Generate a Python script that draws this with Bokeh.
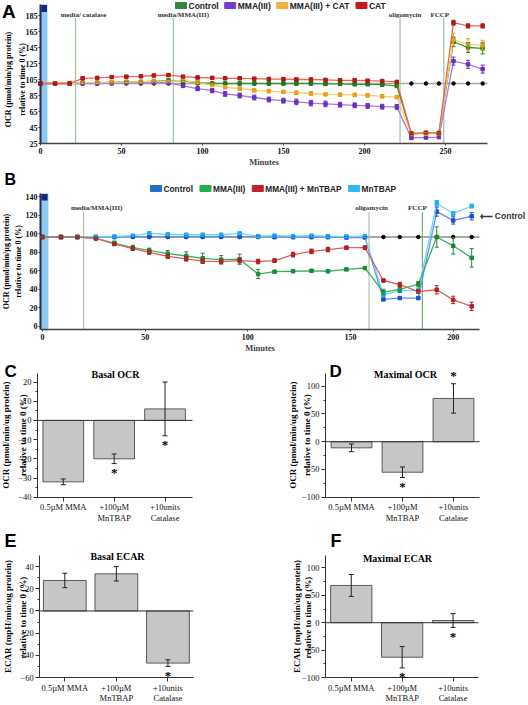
from bokeh.plotting import figure
from bokeh.models import (Range1d, FixedTicker, Label, ColumnDataSource, Whisker, TeeHead)
from bokeh.layouts import column, row
from bokeh.embed import file_html
from bokeh.resources import INLINE

SERIF = "Liberation Serif"
SANS = "Liberation Sans"

# ---------------- Panel A data ----------------
a_minutes = [0, 9, 18, 26, 35, 44, 53, 62, 70, 79, 88, 97, 106, 114, 123, 132, 141, 150, 158, 167,
             176, 185, 194, 202, 211, 220, 229, 238, 246, 255, 264, 273]
a_control = [100, 100, 100, 101, 101, 101.5, 102, 102, 103, 104, 103, 101, 100, 100, 100, 100, 100, 100, 100, 100,
             99.5, 99.5, 99, 99, 98.5, 97, 37, 38, 38, 152, 145, 144]
a_control_err = [0, 0, 0, 1, 1, 1, 1, 1, 1, 1, 1, 1, 1, 1, 1, 1, 1, 1, 1, 1,
                 1, 1, 1, 1, 1, 1, 1.5, 1.5, 1.5, 6, 6, 7]
a_mma = [100, 100, 100, 100, 100, 100.5, 101, 100.5, 101, 101, 97, 93.5, 91, 87, 85, 82.5, 80, 78.5, 77, 75.5,
         74.5, 73.5, 72.7, 72, 71, 70.7, 32, 32.5, 33, 128, 124, 118]
a_mma_err = [0, 0, 0, 1, 1, 1, 1.5, 1.5, 1.5, 1.5, 2, 2.5, 2.5, 3, 3, 3, 3, 3, 3.5, 3.5,
             3.5, 3, 3, 3, 3, 3, 1, 1, 1.5, 5, 5, 5]
a_mma_cat = [100, 100, 100, 101, 101, 101.5, 102, 102, 103, 103, 104, 101.5, 98, 95.5, 93.5, 91.5, 90.5, 89.5, 88.5, 87.5,
             86.5, 86, 85.8, 85.2, 84, 83, 37, 37.5, 37.5, 155, 149, 148]
a_mma_cat_err = [0, 0, 0, 1, 1, 1, 1, 1, 1, 1, 1.5, 1.5, 1.5, 2, 2, 2, 2, 2, 2, 2,
                 2, 2, 2, 2, 2, 2, 1.5, 1.5, 1.5, 8, 7, 6]
a_cat = [100, 100, 100, 106.5, 107, 108, 108.5, 109, 110, 110.5, 108.5, 107.5, 107, 106.5, 106.5, 106, 105.5, 105.5, 105, 105,
         104.5, 104, 104, 103.5, 103, 102, 37.5, 38.5, 38, 176, 172, 172]
a_cat_err = [0, 0, 0, 1.5, 1.5, 1.5, 1.5, 1.5, 1.5, 1.5, 1.5, 1.5, 1.5, 1.5, 1.5, 1.5, 1.5, 1.5, 1.5, 1.5,
             1.5, 1.5, 1.5, 1.5, 1.5, 1.5, 1.5, 1.5, 1.5, 3, 2.5, 2.5]
a_ref = 100
a_injections = [21.6, 82, 222, 249]
a_injection_labels = ["media/ catalase", "media/MMA(III)", "oligomycin", "FCCP"]
a_xticks = [0, 50, 100, 150, 200, 250]
a_yticks = [25, 45, 65, 85, 105, 125, 145, 165, 185]
a_legend = ["Control", "MMA(III)", "MMA(III) + CAT", "CAT"]

# ---------------- Panel B data ----------------
b_minutes = [0, 9, 17, 26, 35, 44, 52, 61, 70, 78, 87, 96, 105, 113, 122, 131, 139, 148, 157, 166,
             174, 183, 192, 200, 209]
b_control = [96.5, 96.5, 96.5, 96.5, 96.5, 97, 97, 97, 97, 97, 97, 97, 97, 96.5, 96.5, 96.5, 96.5, 96, 96, 29,
             30.5, 30.5, 124, 114.5, 119]
b_control_err = [0, 0, 0, 1, 1, 1, 1, 1, 1, 1, 1, 1, 1, 1, 1, 1, 1, 1, 1, 1,
                 1, 1, 5, 4, 4]
b_mma = [96.5, 96.5, 96.5, 95, 90, 85, 82, 78.5, 76, 73.5, 72, 72.5, 56.5, 59, 59.5, 60, 59.5, 61.5, 63, 37,
         40, 45.5, 96.5, 87, 74]
b_mma_err = [0, 0, 0, 1.5, 2, 2.5, 2.5, 3.5, 4.5, 5.5, 4.5, 5.5, 5, 1, 1, 1, 1, 1, 1, 3,
             3, 3, 11, 9, 10]
b_mma_mntbap = [96.5, 96.5, 96.5, 95, 89, 84, 80, 75.5, 73, 70.5, 70, 71, 70, 71, 77.5, 81, 83, 85, 85, 49.5,
                45, 37.5, 39.5, 28.5, 21.5]
b_mma_mntbap_err = [0, 0, 0, 1, 1.5, 2, 2, 2, 2.5, 2.5, 2.5, 2.5, 2.5, 2, 2.5, 2.5, 2.5, 1.5, 2, 1.5,
                    2.5, 2, 4.5, 4, 4.5]
b_mntbap = [96.5, 96.5, 96.5, 97, 97, 98, 100.5, 99.5, 99, 99, 99, 100.5, 97.5, 98, 97.5, 98, 97.5, 97, 97.5, 34,
            38.5, 38.5, 133, 122, 130]
b_mntbap_err = [0, 0, 0, 1, 1, 1, 1.5, 1.5, 1.5, 1.5, 1.5, 1.5, 1.5, 1.5, 1.5, 1.5, 1.5, 1.5, 1.5, 2,
                2, 2, 3, 2, 2]
b_ref = 96.5
b_injections = [20, 159, 185]
b_injection_labels = ["media/MMA(III)", "oligomycin", "FCCP"]
b_xticks = [0, 50, 100, 150, 200]
b_yticks = [0, 20, 40, 60, 80, 100, 120, 140]
b_legend = ["Control", "MMA(III)", "MMA(III) + MnTBAP", "MnTBAP"]

# ---------------- Panels C-F data ----------------
groups = [1, 2, 3]
group_labels = ["0.5µM MMA", "+100µM\nMnTBAP", "+10units\nCatalase"]
basal_ocr = [-32, -20, 6]
basal_ocr_err = [1.5, 2.5, 14]
basal_ocr_star = ["", "below", "below"]
maximal_ocr = [-11, -55, 78]
maximal_ocr_err = [7, 9.5, 26.5]
maximal_ocr_star = ["", "below", "above"]
basal_ecar = [27.5, 33.5, -47]
basal_ecar_err = [6.5, 6.5, 3]
basal_ecar_star = ["", "", "below"]
maximal_ecar = [68, -63, 4]
maximal_ecar_err = [20, 19.5, 12.5]
maximal_ecar_star = ["", "below", "below"]

OCR_TS_LABEL = ["OCR (pmol/min/µg protein)", "relative to time 0 (%)"]
OCR_LABEL = ["OCR (pmol/min/ug protein)", "relative to time 0 (%)"]
ECAR_LABEL = ["ECAR (mpH/min/ug protein)", "relative to  time 0 (%)"]

# approximate advance widths (em) of Liberation Sans Bold, used to lay out legend rows
SANS_BOLD_W = {"C": .722, "o": .611, "n": .611, "t": .333, "r": .389, "l": .278, "M": .833, "A": .722,
               "(": .333, ")": .333, "I": .278, " ": .278, "+": .584, "T": .611, "B": .722, "P": .667}


def text_width(s, px):
    return sum(SANS_BOLD_W.get(c, .6) for c in s) * px


class Panel:
    """A figure whose frame fills its whole canvas; the plot box (axes) sits inside it."""

    def __init__(self, canvas, box, xr, yr):
        X0, Y0, X1, Y1 = canvas
        fl, fr, ft, fb = box
        self.box, self.xr, self.yr = box, xr, yr
        sx = (xr[1] - xr[0]) / (fr - fl)
        sy = (yr[1] - yr[0]) / (fb - ft)
        self.sx, self.sy = sx, sy
        cx = (xr[0] - (fl - X0) * sx, xr[1] + (X1 - fr) * sx)
        cy = (yr[0] - (Y1 - fb) * sy, yr[1] + (ft - Y0) * sy)
        p = figure(width=X1 - X0, height=Y1 - Y0, x_range=Range1d(*cx), y_range=Range1d(*cy),
                   output_backend="svg", toolbar_location=None, min_border=0,
                   min_border_left=0, min_border_right=0, min_border_top=0, min_border_bottom=0)
        p.title.visible = False
        p.outline_line_color = None
        p.xgrid.visible = False
        p.ygrid.visible = False
        p.background_fill_color = "white"
        p.border_fill_color = "white"
        ax, ay = p.xaxis[0], p.yaxis[0]
        ax.fixed_location = yr[0]
        ax.bounds = xr
        ay.fixed_location = xr[0]
        ay.bounds = yr
        self.p = p

    def at(self, px, py):
        fl, fr, ft, fb = self.box
        return (self.xr[0] + (px - fl) * self.sx, self.yr[0] + (fb - py) * self.sy)

    def text(self, px, py, text, size, font=SERIF, style="bold", align="center",
             baseline="middle", angle=0, color="black"):
        x, y = self.at(px, py)
        self.p.add_layout(Label(x=x, y=y, text=text, text_font=font, text_font_style=style,
                                text_font_size=size, text_align=align, text_baseline=baseline,
                                angle=angle, angle_units="deg", text_color=color))

    def legend(self, labels, colors, px0, py, size_px, gap):
        px = px0
        for lab, col in zip(labels, colors):
            x, y = self.at(px + 5.5, py)
            self.p.rect(x=[x], y=[y], width=11, height=6, width_units="screen", height_units="screen",
                        fill_color=col, line_color=col)
            self.text(px + 13, py, lab, f"{size_px}px", font=SANS, align="left", color="#222222")
            px += 13 + text_width(lab, size_px) + gap


def style_axis(ax, size, bold, line_color, line_width, tick_out, standoff):
    ax.major_label_text_font = SERIF
    ax.major_label_text_font_style = "bold" if bold else "normal"
    ax.major_label_text_font_size = size
    ax.major_label_text_color = "#111111"
    ax.major_label_standoff = standoff
    ax.major_tick_out = tick_out
    ax.major_tick_in = 0
    ax.minor_tick_out = 0
    ax.minor_tick_in = 0
    ax.axis_line_color = line_color
    ax.axis_line_width = line_width
    ax.major_tick_line_color = line_color


def series(p, t, v, e, line_c, mark_c):
    src = ColumnDataSource(dict(t=t, v=v,
                                lo=[a - b for a, b in zip(v, e)],
                                hi=[a + b for a, b in zip(v, e)]))
    p.line("t", "v", source=src, line_color=line_c, line_width=1.3)
    p.add_layout(Whisker(base="t", upper="hi", lower="lo", source=src, line_color=mark_c, line_width=1,
                         upper_head=TeeHead(size=4, line_color=mark_c, line_width=1),
                         lower_head=TeeHead(size=4, line_color=mark_c, line_width=1), level="annotation"))
    p.scatter("t", "v", source=src, size=3.5, marker="square", color=mark_c)


def injections(panel, xs, labels, colors, label_py, line_top_py, offsets):
    p = panel.p
    _, ytop = panel.at(0, line_top_py)
    _, ly = panel.at(0, label_py)
    for x, lab, col, off in zip(xs, labels, colors, offsets):
        p.segment(x0=[x], y0=[panel.yr[0]], x1=[x], y1=[ytop], line_color=col, line_width=1.2)
        p.add_layout(Label(x=x, y=ly, text=lab, x_offset=off, text_align="center",
                           text_baseline="middle", text_font=SERIF, text_font_size="7px",
                           text_font_style="bold", text_color="#333333"))


def ts_axes(panel, xticks, yticks, ylabel, ylabel_px, ylabel_py):
    p = panel.p
    ax, ay = p.xaxis[0], p.yaxis[0]
    ax.ticker = FixedTicker(ticks=xticks)
    style_axis(ax, "8px", True, "#444444", 1.5, 2, 2)
    ax.axis_label = "Minutes"
    ax.axis_label_text_font = SERIF
    ax.axis_label_text_font_style = "bold"
    ax.axis_label_text_font_size = "8.5px"
    ax.axis_label_standoff = 0
    ay.ticker = FixedTicker(ticks=yticks)
    style_axis(ay, "8px", True, "#2c2c54", 2, 2, 1)
    for txt, px in zip(ylabel, ylabel_px):
        panel.text(px, ylabel_py, txt, "8px", angle=90)


# ================= Panel A =================
A = Panel((0, 0, 528, 168), (40, 487, 4, 143), (0, 276), (25, 198.75))
pA = A.p
ts_axes(A, a_xticks, a_yticks, OCR_TS_LABEL, [7.5, 21.5], 79)
pA.quad(left=[A.xr[0]], right=[4.3], bottom=[A.yr[0]], top=[A.yr[1]], fill_color="#8ccaf0", line_color=None)
_, sq_bottom = A.at(0, 11.5)
pA.quad(left=[0.5], right=[4.0], bottom=[sq_bottom], top=[A.yr[1] - 0.6], fill_color="#1a237e", line_color=None)
pA.segment(x0=[A.xr[0]], y0=[a_ref], x1=[A.xr[1]], y1=[a_ref], line_color="#a8a8a8", line_width=1.6)
pA.scatter(a_minutes, [a_ref] * len(a_minutes), size=3.5, color="black")
injections(A, a_injections, a_injection_labels, ["#9cc59c"] * 4, 14, 17.5, [8, 10, 5, -4])
series(pA, a_minutes, a_control, a_control_err, "#3a9a3a", "#1e7a1e")
series(pA, a_minutes, a_mma, a_mma_err, "#a878e8", "#6a2fc0")
series(pA, a_minutes, a_mma_cat, a_mma_cat_err, "#f2cf6a", "#e8a020")
series(pA, a_minutes, a_cat, a_cat_err, "#e8684a", "#b01818")
A.legend(a_legend, ["#2e8b3e", "#7a3cc8", "#f4b040", "#c8161e"], 175, 5, 8.5, 6)
A.text(1.5, 0, "A", "19px", font=SANS, align="left", baseline="top")

# ================= Panel B =================
B = Panel((0, 168, 528, 358), (40, 479, 193, 329), (-0.97, 212.8), (-3.5, 143.6))
pB = B.p
ts_axes(B, b_xticks, b_yticks, OCR_TS_LABEL, [6, 17.5], 261)
pB.quad(left=[B.xr[0]], right=[2.9], bottom=[B.yr[0]], top=[B.yr[1]], fill_color="#8ccaf0", line_color=None)
_, sq_bottom = B.at(0, 200)
pB.quad(left=[-0.5], right=[2.5], bottom=[sq_bottom], top=[B.yr[1] - 0.6], fill_color="#1a237e", line_color=None)
pB.segment(x0=[B.xr[0]], y0=[b_ref], x1=[B.xr[1]], y1=[b_ref], line_color="#a8a8a8", line_width=2)
pB.scatter(b_minutes, [b_ref] * len(b_minutes), size=3.5, color="black")
injections(B, b_injections, b_injection_labels, ["#b8b8b8", "#a8c8a8", "#70b070"], 207, 211.5, [13, 2.5, -5])
series(pB, b_minutes, b_control, b_control_err, "#6090f0", "#2050d0")
series(pB, b_minutes, b_mntbap, b_mntbap_err, "#70d4f8", "#20b0f0")
series(pB, b_minutes, b_mma, b_mma_err, "#40b060", "#1e8a3a")
series(pB, b_minutes, b_mma_mntbap, b_mma_mntbap_err, "#d86060", "#b02020")
B.legend(b_legend, ["#1f6fc8", "#20b050", "#c8202a", "#30b8f0"], 150, 188, 8.3, 7)
pB.add_layout(Label(x=B.xr[1], y=b_control[-1], text="⟵ Control", x_offset=0, text_align="left",
                    text_baseline="middle", text_font=SANS, text_font_size="8.5px",
                    text_font_style="bold", text_color="#333333"))
B.text(4, 170, "B", "16px", font=SANS, align="left", baseline="top")


# ================= Bar panels =================
def bar_panel(canvas, box, xr, yr, yticks, yminor, vals, errs, stars,
              title, title_pxy, ylabel, ylabel_px, letter, letter_pxy, letter_size, bar_w):
    P = Panel(canvas, box, xr, yr)
    p = P.p
    src = ColumnDataSource(dict(x=groups, top=vals,
                                lo=[v - e for v, e in zip(vals, errs)],
                                hi=[v + e for v, e in zip(vals, errs)]))
    p.vbar(x="x", top="top", bottom=0, width=bar_w, source=src,
           fill_color="#c6c6c6", line_color="#5a5a5a", line_width=1)
    p.segment(x0=[xr[0]], y0=[0], x1=[xr[1]], y1=[0], line_color="#333333", line_width=1)
    p.add_layout(Whisker(base="x", upper="hi", lower="lo", source=src, line_color="#222222", line_width=1,
                         upper_head=TeeHead(size=5, line_color="#222222", line_width=1),
                         lower_head=TeeHead(size=5, line_color="#222222", line_width=1),
                         level="annotation"))
    for g, v, e, s in zip(groups, vals, errs, stars):
        if s == "below":
            p.add_layout(Label(x=g, y=v - e, text="*", text_align="center", text_baseline="top",
                               y_offset=-1.5, text_font=SERIF, text_font_style="bold",
                               text_font_size="13px", text_color="black"))
        elif s == "above":
            p.add_layout(Label(x=g, y=v + e, text="*", text_align="center", text_baseline="bottom",
                               y_offset=1, text_font=SERIF, text_font_style="bold",
                               text_font_size="13px", text_color="black"))
    ax, ay = p.xaxis[0], p.yaxis[0]
    ax.ticker = FixedTicker(ticks=groups)
    ax.major_label_overrides = {g: l for g, l in zip(groups, group_labels)}
    style_axis(ax, "8.5px", False, "#333333", 1, 4, 1)
    ax.major_label_text_line_height = 1.05
    ay.ticker = FixedTicker(ticks=yticks, minor_ticks=yminor)
    style_axis(ay, "8.5px", False, "#333333", 1, 4, 2)
    ay.minor_tick_out = 2
    ay.minor_tick_line_color = "#333333"
    cy = (box[2] + box[3]) / 2
    for txt, px in zip(ylabel, ylabel_px):
        P.text(px, cy, txt, "9px", angle=90)
    P.text(title_pxy[0], title_pxy[1], title, "10px")
    P.text(letter_pxy[0], letter_pxy[1], letter, letter_size, font=SANS, align="left", baseline="top")
    return p


pC = bar_panel((0, 358, 264, 530), (37, 192, 372.7, 496.7), (0.493, 3.54), (-40, 24.6),
               [-40, -30, -20, -10, 0, 10, 20], [-35, -25, -15, -5, 5, 15],
               basal_ocr, basal_ocr_err, basal_ocr_star,
               "Basal OCR", (115, 374), OCR_LABEL, [5.5, 22], "C", (4, 361.5), "17px", 0.8)
pD = bar_panel((264, 358, 528, 530), (325, 479, 372.7, 496.7), (0.49, 3.51), (-100, 123.5),
               [-100, -50, 0, 50, 100], [-75, -25, 25, 75],
               maximal_ocr, maximal_ocr_err, maximal_ocr_star,
               "Maximal OCR", (405, 374), OCR_LABEL, [292, 306], "D", (329, 361.5), "17px", 0.8)
pE = bar_panel((0, 530, 264, 705), (39.3, 192.7, 555, 677), (0.515, 3.49), (-60, 50),
               [-60, -40, -20, 0, 20, 40], [-50, -30, -10, 10, 30],
               basal_ecar, basal_ecar_err, basal_ecar_star,
               "Basal ECAR", (117, 556), ECAR_LABEL, [7, 22], "E", (4, 530.5), "18px", 0.83)
pF = bar_panel((264, 530, 528, 705), (325, 478, 555, 677), (0.494, 3.5), (-100, 122.7),
               [-100, -50, 0, 50, 100], [-75, -25, 25, 75],
               maximal_ecar, maximal_ecar_err, maximal_ecar_star,
               "Maximal ECAR", (397, 558), ECAR_LABEL, [296, 307.5], "F", (330, 530.5), "18px", 0.81)

layout = column(pA, pB, row(pC, pD), row(pE, pF))
open("out.html", "w").write(file_html(layout, INLINE))
